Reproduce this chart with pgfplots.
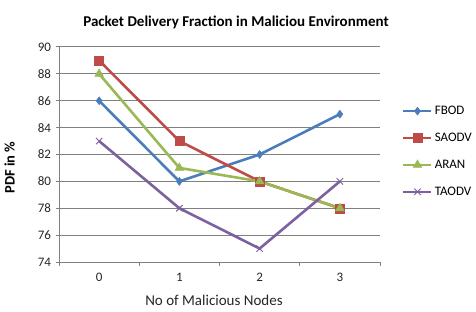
\documentclass[border=0pt]{standalone}
\usepackage{fontspec}
\setmainfont{Carlito}
\usepackage{pgfplots}
\pgfplotsset{compat=1.18}
\definecolor{cblue}{HTML}{4A7EBB}
\definecolor{cred}{HTML}{BE4B48}
\definecolor{cgreen}{HTML}{98B954}
\definecolor{cpurple}{HTML}{7D60A0}
\definecolor{cgrid}{HTML}{808080}
\begin{document}
\begin{tikzpicture}[x=1pt,y=1pt]
\useasboundingbox (0,0) rectangle (476,311);
\begin{axis}[
  at={(59pt,49pt)}, anchor=south west,
  scale only axis, width=321pt, height=215pt,
  xmin=-0.5, xmax=3.5, ymin=74, ymax=90,
  ytick={74,76,...,90},
  xtick={0,1,2,3},
  minor xtick={-0.5,0.5,1.5,2.5,3.5},
  major x tick style={draw=none},
  minor tick length=4pt,
  major tick length=3.5pt,
  tick align=outside,
  axis lines*=left,
  axis line style={cgrid, line width=1pt},
  tick style={cgrid, line width=1pt},
  ymajorgrids,
  grid style={cgrid, line width=1pt},
  /pgf/number format/assume math mode=true,
  tick label style={font=\fontsize{13}{15}\selectfont, text=black!85},
  yticklabel style={xshift=-1pt},
  xticklabel style={yshift=-4pt},
  legend style={at={(1.0685,0.514)}, anchor=west, draw=none, fill=none,
    font=\fontsize{13}{15}\selectfont, row sep=13pt, inner sep=0pt,
    cells={anchor=west}},
  legend image code/.code={\draw[mark repeat=2,mark phase=2] plot coordinates {(0pt,0pt)(14pt,0pt)(28pt,0pt)};},
  every axis plot/.append style={line width=2.6pt},
]
\addplot[cblue, mark=diamond*, mark size=4pt, mark options={line width=0.5pt, fill=cblue}] coordinates {(0,86)(1,80)(2,82)(3,85)};
\addlegendentry{FBOD}
\addplot[cred, mark=square*, mark size=4.5pt, mark options={line width=0.5pt, fill=cred}] coordinates {(0,89)(1,83)(2,80)(3,78)};
\addlegendentry{SAODV}
\addplot[cgreen, mark=triangle*, mark size=5pt, mark options={line width=0.5pt, fill=cgreen}] coordinates {(0,88)(1,81)(2,80)(3,78)};
\addlegendentry{ARAN}
\addplot[cpurple, mark=x, mark size=4.5pt, mark options={line width=0.9pt}] coordinates {(0,83)(1,78)(2,75)(3,80)};
\addlegendentry{TAODV}
\end{axis}
\node[font=\bfseries\fontsize{15}{17}\selectfont] at (236,289) {Packet Delivery Fraction in Maliciou Environment};
\node[font=\bfseries\fontsize{14.5}{17}\selectfont, rotate=90] at (9.5,143.5) {PDF in \%};
\node[font=\fontsize{15}{17}\selectfont, text=black!85] at (214,11) {No of Malicious Nodes};
\end{tikzpicture}
\end{document}
